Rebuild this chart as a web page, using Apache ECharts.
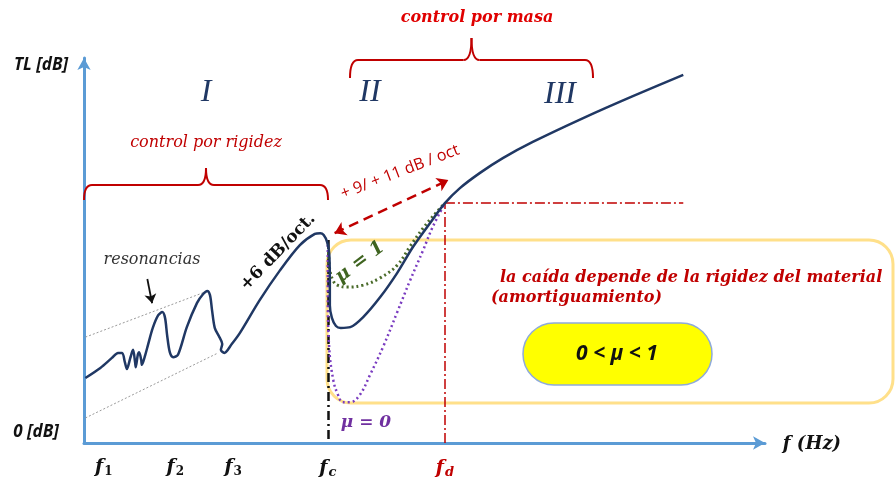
<!DOCTYPE html>
<html>
<head>
<meta charset="utf-8">
<script src="https://cdn.jsdelivr.net/npm/echarts@6/dist/echarts.min.js"></script>
<style>
  html, body { margin: 0; padding: 0; background: #ffffff; }
  #chart { width: 895px; height: 485px; }
</style>
</head>
<body>
<div id="chart"></div>
<script>
// Transmission loss of a single panel vs. frequency (schematic, normalised units 0-100)
const mainCurve = [
  [0.2, 16.9], [2.4, 19.5], [4.1, 22.1], [5.0, 23.4], [5.6, 23.4], [6.0, 21.0],
  [6.3, 19.2], [6.8, 22.1], [7.2, 24.2], [7.5, 21.0], [7.6, 19.7], [7.9, 22.9],
  [8.1, 23.6], [8.4, 21.6], [8.5, 20.3], [9.0, 22.9], [9.4, 25.5], [10.1, 29.9],
  [10.9, 33.2], [11.5, 34.0], [11.9, 32.5], [12.2, 28.1], [12.6, 23.6], [13.1, 22.3],
  [13.8, 22.9], [15.1, 30.1], [16.6, 36.4], [17.5, 38.7], [18.1, 39.5], [18.5, 38.4],
  [18.8, 34.5], [19.2, 29.9], [19.8, 27.8], [20.3, 25.7], [20.1, 24.2], [20.6, 23.4],
  [21.7, 25.7], [22.9, 28.6], [25.8, 37.1], [28.8, 44.9], [31.7, 51.4], [33.9, 54.3],
  [34.7, 54.5], [35.2, 54.0], [35.7, 52.2], [36.0, 49.4], [36.1, 42.3], [36.1, 35.8],
  [36.4, 32.5], [37.0, 30.4], [37.7, 29.9], [39.1, 30.1], [41.0, 32.7], [43.5, 37.9],
  [46.0, 44.2], [48.3, 50.9], [50.8, 57.1], [53.0, 62.3], [55.2, 66.2], [58.1, 70.1],
  [61.5, 74.0], [65.9, 78.2], [73.3, 84.4], [80.6, 90.1], [88.0, 95.6]
];
// Coincidence dip, fully damped (mu = 1)
const dampedCurve = [
  [35.9, 49.6], [36.1, 44.9], [36.6, 42.1], [37.2, 41.0], [38.6, 40.5], [41.0, 41.0],
  [43.5, 42.9], [46.0, 46.2], [47.9, 51.1], [49.8, 55.8], [51.8, 60.0], [53.0, 62.3]
];
// Coincidence dip, undamped (mu = 0)
const undampedCurve = [
  [35.8, 51.4], [35.8, 39.7], [36.0, 24.9], [36.6, 16.4], [37.3, 12.5], [38.0, 10.6],
  [39.1, 10.6], [40.5, 12.5], [42.0, 17.7], [43.9, 24.9], [46.0, 34.0], [47.9, 42.3],
  [49.8, 50.1], [51.2, 56.1], [53.0, 62.3]
];
// Envelope of the resonance region
const upperEnvelope = [[0.2, 27.5], [18.2, 39.5]];
const lowerEnvelope = [[0.2, 6.5], [19.7, 23.4]];

// Characteristic frequencies on the x axis
const freqNames = ['1', '2', '3', 'c', 'd'];
const freqValues = [2.9, 13.4, 21.9, 35.8, 53.0];
const fc = 35.8, fcPeak = 52.7;
const fd = 53.0, fdLevel = 62.3, fdLineEnd = 88.0;

const chart = echarts.init(document.getElementById('chart'), null, { renderer: 'canvas' });

const navy = '#203864';
const red = '#c00000';
const serif = '"DejaVu Serif", serif';

const labelRich = {
  f: { fontFamily: serif, fontStyle: 'italic', fontWeight: 'bold', fontSize: 19, color: '#111' },
  s: { fontFamily: serif, fontWeight: 'bold', fontSize: 12, color: '#111', padding: [9, 0, 0, 1] },
  si: { fontFamily: serif, fontStyle: 'italic', fontWeight: 'bold', fontSize: 13, color: '#111', padding: [9, 0, 0, 1] },
  fr: { fontFamily: serif, fontStyle: 'italic', fontWeight: 'bold', fontSize: 19, color: red },
  sr: { fontFamily: serif, fontStyle: 'italic', fontWeight: 'bold', fontSize: 13, color: red, padding: [9, 0, 0, 1] }
};

function txt(text, x, y, font, fill, deg) {
  return {
    type: 'text', x: x, y: y, rotation: (deg || 0) * Math.PI / 180, z: 50,
    style: { text: text, font: font, fill: fill, align: 'center', verticalAlign: 'middle' }
  };
}

// Horizontal curly brace: ends turn down, tip points up at the middle
function brace(x1, x2, yLine, yEnd, yTip, color) {
  const xm = (x1 + x2) / 2, r = 8;
  const st = { stroke: color, lineWidth: 2, fill: 'none' };
  const q = (ax, ay, cx, cy, bx, by) => ({ type: 'bezierCurve', z: 50,
    shape: { x1: ax, y1: ay, cpx1: cx, cpy1: cy, x2: bx, y2: by }, style: st });
  const l = (ax, ay, bx, by) => ({ type: 'line', z: 50,
    shape: { x1: ax, y1: ay, x2: bx, y2: by }, style: st });
  return [
    q(x1, yEnd, x1, yLine, x1 + r, yLine),
    l(x1 + r, yLine, xm - r, yLine),
    q(xm - r, yLine, xm, yLine, xm, yTip),
    q(xm, yTip, xm, yLine, xm + r, yLine),
    l(xm + r, yLine, x2 - r, yLine),
    q(x2 - r, yLine, x2, yLine, x2, yEnd)
  ];
}

const option = {
  animation: false,
  backgroundColor: '#ffffff',
  grid: { left: 84, right: 130, top: 58, bottom: 42 },
  xAxis: {
    type: 'value', min: 0, max: 100,
    axisLine: { show: true, symbol: ['none', 'arrow'], symbolSize: [10, 12], lineStyle: { color: '#5b9bd5', width: 3 } },
    axisTick: { show: false },
    splitLine: { show: false },
    axisLabel: {
      customValues: freqValues,
      margin: 14,
      formatter: function (v) {
        const i = freqValues.indexOf(v);
        if (i < 0) return '';
        const n = freqNames[i];
        if (n === 'd') return '{fr|f}{sr|d}';
        return '{f|f}{' + (/[0-9]/.test(n) ? 's' : 'si') + '|' + n + '}';
      },
      rich: labelRich
    }
  },
  yAxis: {
    type: 'value', min: 0, max: 100,
    axisLine: { show: true, symbol: ['none', 'arrow'], symbolSize: [10, 12], lineStyle: { color: '#5b9bd5', width: 3 } },
    axisTick: { show: false },
    splitLine: { show: false },
    axisLabel: { show: false }
  },
  series: [
    {
      name: 'envolvente superior', type: 'line', data: upperEnvelope, symbol: 'none', z: 3,
      lineStyle: { color: '#9a9a9a', width: 1, type: [2, 2] }
    },
    {
      name: 'envolvente inferior', type: 'line', data: lowerEnvelope, symbol: 'none', z: 3,
      lineStyle: { color: '#9a9a9a', width: 1, type: [2, 2] }
    },
    {
      name: 'referencias', type: 'line', data: [], symbol: 'none', z: 4,
      markLine: {
        silent: true, animation: false, label: { show: false },
        data: [
          [ { coord: [fc, fcPeak], symbol: 'none', lineStyle: { color: '#111', width: 2.5, type: [9, 4, 2, 4] } },
            { coord: [fc, 0], symbol: 'none' } ],
          [ { coord: [fd, 0], symbol: 'none', lineStyle: { color: red, width: 1.5, type: [10, 3, 2, 3] } },
            { coord: [fd, fdLevel], symbol: 'none' } ],
          [ { coord: [fd, fdLevel], symbol: 'none', lineStyle: { color: red, width: 1.5, type: [10, 3, 2, 3] } },
            { coord: [fdLineEnd, fdLevel], symbol: 'none' } ],
          [ { coord: [36.8, 54.5], symbol: 'arrow', symbolSize: 11, lineStyle: { color: red, width: 2.5, type: [10, 6] } },
            { coord: [53.5, 68.3], symbol: 'arrow', symbolSize: 11 } ],
          [ { coord: [9.3, 42.6], symbol: 'none', lineStyle: { color: '#111', width: 1.8, type: 'solid' } },
            { coord: [10.0, 36.3], symbol: 'arrow', symbolSize: 9 } ]
        ]
      }
    },
    {
      name: 'TL', type: 'line', data: mainCurve, symbol: 'none', smooth: 0.3, z: 6,
      lineStyle: { color: navy, width: 2.5 }
    },
    {
      name: 'mu = 1', type: 'line', data: dampedCurve, symbol: 'none', smooth: 0.4, z: 5,
      lineStyle: { color: '#4a6b2a', width: 3, type: [2, 3] }
    },
    {
      name: 'mu = 0', type: 'line', data: undampedCurve, symbol: 'none', smooth: 0.4, z: 5,
      lineStyle: { color: '#7a3cc0', width: 2.5, type: [2, 3] }
    }
  ],
  graphic: [
    // damping region frame
    { type: 'rect', z: 1, shape: { x: 327, y: 240, width: 566, height: 163, r: 24 },
      style: { fill: 'none', stroke: '#ffe08a', lineWidth: 3 } },
    // damping range pill
    { type: 'rect', z: 40, shape: { x: 523, y: 323, width: 189, height: 62, r: 31 },
      style: { fill: '#ffff00', stroke: '#8eaadb', lineWidth: 1.5 } },
    txt('0 < μ < 1', 617, 354, 'italic bold 21px "Open Sans", sans-serif', '#111'),

    txt('TL [dB]', 41, 65, 'italic bold 17px "Open Sans", sans-serif', '#111'),
    txt('0 [dB]', 36, 432, 'italic bold 17px "Open Sans", sans-serif', '#111'),
    txt('f (Hz)', 812, 444, 'italic bold 18px ' + serif, '#111'),

    txt('control por masa', 477, 18, 'italic bold 16px ' + serif, '#e00000'),
    txt('control por rigidez', 206, 143, 'italic 16px ' + serif, red),
    txt('I', 206, 93, 'italic 32px "Liberation Serif", serif', navy),
    txt('II', 370, 93, 'italic 32px "Liberation Serif", serif', navy),
    txt('III', 560, 95, 'italic 32px "Liberation Serif", serif', navy),

    txt('resonancias', 152, 260, 'italic 16px ' + serif, '#333'),
    txt('+6 dB/oct.', 278, 252, 'bold 17px ' + serif, '#111', 46),
    txt('+ 9/ + 11 dB / oct', 400, 172, '16px "Open Sans", sans-serif', red, 21),
    txt('μ = 1', 360, 262, 'italic bold 19px ' + serif, '#3f6420', 37),
    txt('μ = 0', 366, 423, 'italic bold 17px ' + serif, '#7030a0'),

    { type: 'text', x: 500, y: 278, z: 50,
      style: { text: 'la caída depende de la rigidez del material', font: 'italic bold 16px ' + serif, fill: red, align: 'left', verticalAlign: 'middle' } },
    { type: 'text', x: 491, y: 298, z: 50,
      style: { text: '(amortiguamiento)', font: 'italic bold 16px ' + serif, fill: red, align: 'left', verticalAlign: 'middle' } }
  ]
    .concat(brace(84, 328, 185, 200, 168, red))
    .concat(brace(350, 593, 60, 78, 38, red))
};

chart.setOption(option);
</script>
</body>
</html>
